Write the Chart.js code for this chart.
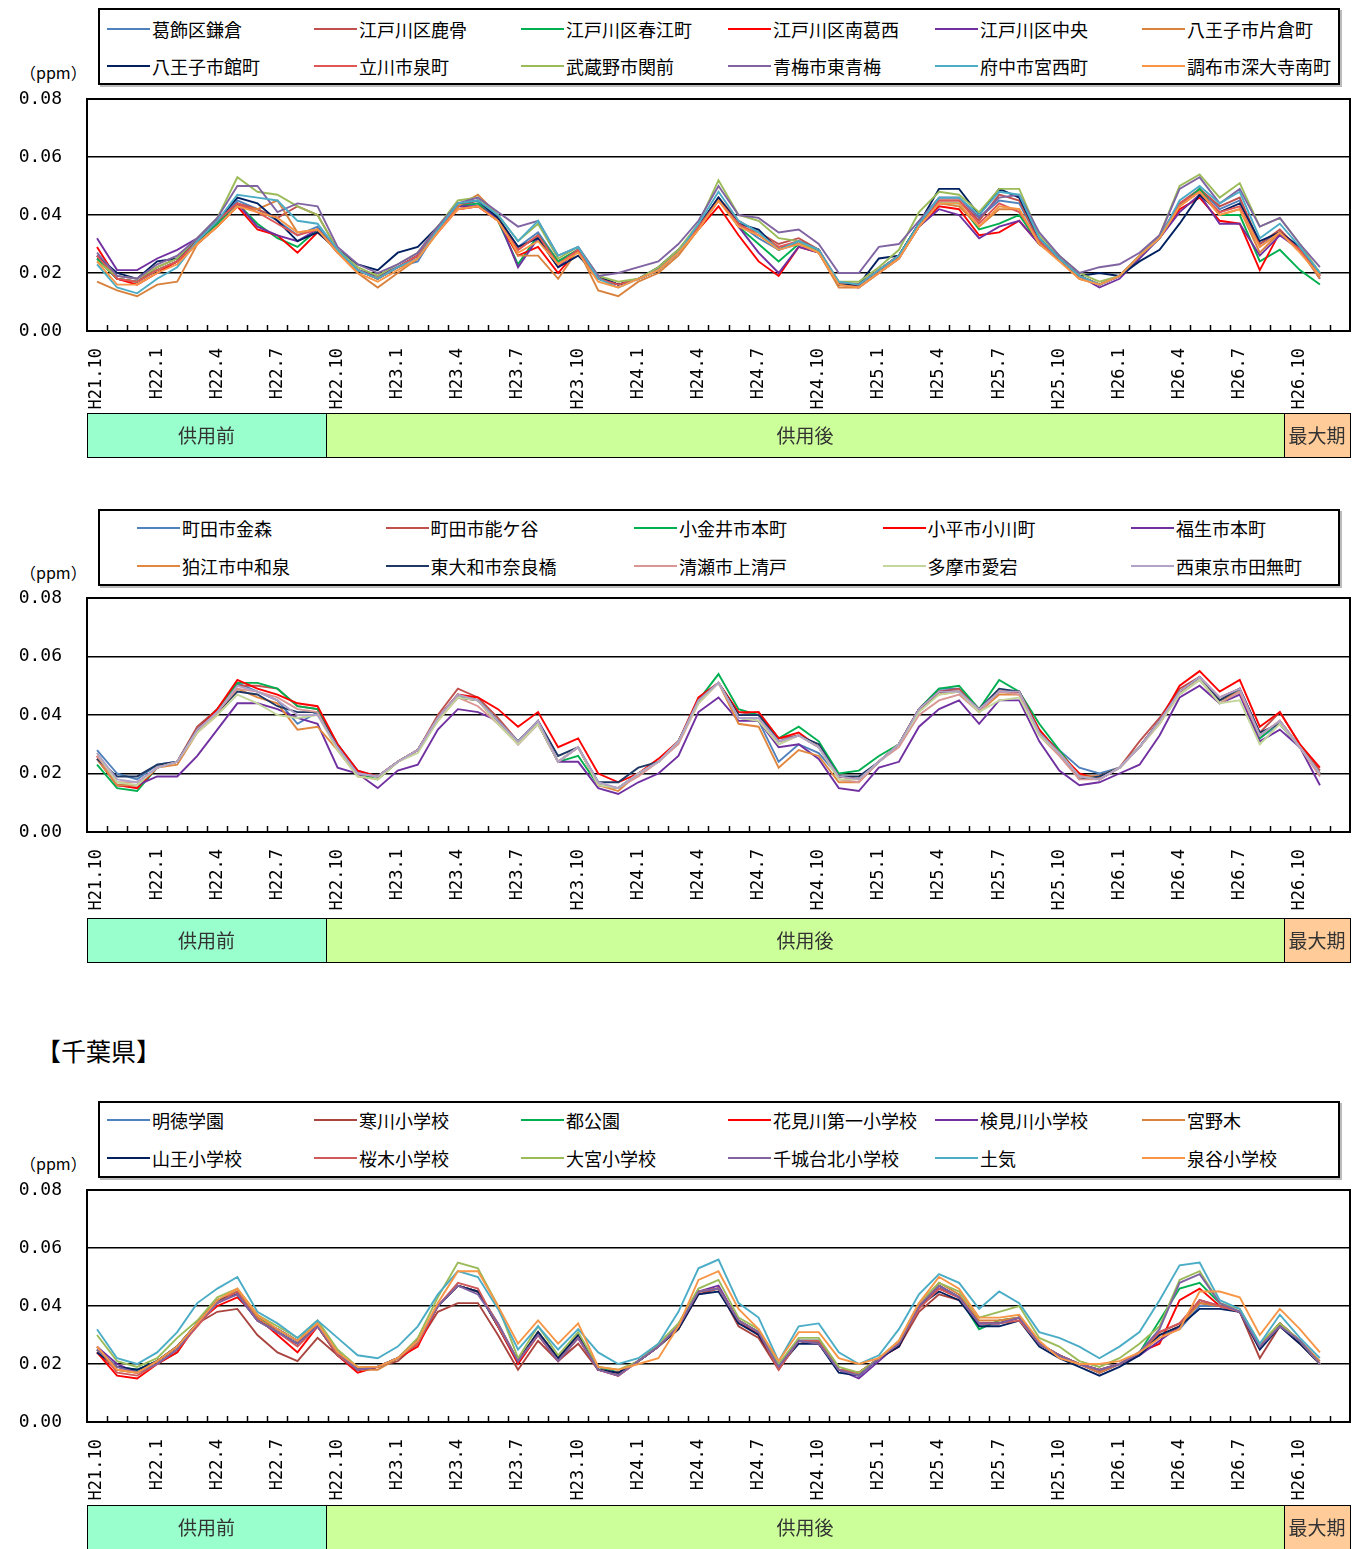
<!DOCTYPE html>
<html><head><meta charset="utf-8">
<script src="https://cdn.jsdelivr.net/npm/chart.js@4.4.0/dist/chart.umd.min.js"></script>
<style>
body{margin:0;background:#fff;}
#root{position:relative;width:1367px;height:1549px;overflow:hidden;background:#fff;font-family:"Noto Sans CJK JP",sans-serif;color:#000;}
.legend{position:absolute;border:2px solid #000;box-sizing:border-box;background:#fff;box-shadow:2px 2px 0 #bbb;}
.li{position:absolute;height:22px;display:flex;align-items:center;font-size:18px;white-space:nowrap;color:#000;line-height:22px;}
.li .sw{display:inline-block;width:43px;height:2px;margin-right:2px;}
.unit{position:absolute;font-size:16px;line-height:20px;white-space:nowrap;}
.pref{position:absolute;font-size:25px;line-height:30px;white-space:nowrap;}
canvas{position:absolute;left:0;}
</style></head><body><div id="root"></div>
<script>
// ---------- categories / tick labels ----------
const monthLabels = ['H21.10','H21.11','H21.12',
 'H22.1','H22.2','H22.3','H22.4','H22.5','H22.6','H22.7','H22.8','H22.9','H22.10','H22.11','H22.12',
 'H23.1','H23.2','H23.3','H23.4','H23.5','H23.6','H23.7','H23.8','H23.9','H23.10','H23.11','H23.12',
 'H24.1','H24.2','H24.3','H24.4','H24.5','H24.6','H24.7','H24.8','H24.9','H24.10','H24.11','H24.12',
 'H25.1','H25.2','H25.3','H25.4','H25.5','H25.6','H25.7','H25.8','H25.9','H25.10','H25.11','H25.12',
 'H26.1','H26.2','H26.3','H26.4','H26.5','H26.6','H26.7','H26.8','H26.9','H26.10','H26.11','H26.12'];
const yTickLabels = ['0.00','0.02','0.04','0.06','0.08'];
const phaseNames = ['供用前','供用後','最大期'];
// phase band edges, in category widths from the left of the axis
const phaseEdges = [0, 11.92, 59.7, 63];
const phaseColors = ['#99FFCC','#CCFF99','#FFCC99'];

// ---------- panel 1 (Tokyo A) ----------
const p1Names = ['葛飾区鎌倉','江戸川区鹿骨','江戸川区春江町','江戸川区南葛西','江戸川区中央','八王子市片倉町',
 '八王子市館町','立川市泉町','武蔵野市関前','青梅市東青梅','府中市宮西町','調布市深大寺南町'];
const p1Colors = ['#4F81BD','#C0504D','#00B050','#FF0000','#7030A0','#D9823E',
 '#002060','#E05555','#9BBB59','#8064A2','#4BACC6','#F79646'];
const kamakura = [.026,.018,.017,.021,.024,.031,.037,.045,.042,.038,.033,.036,.028,.021,.019,.022,.024,.035,.043,.044,.039,.029,.034,.024,.028,.018,.016,.018,.021,.027,.036,.046,.037,.032,.028,.030,.028,.016,.016,.021,.026,.037,.046,.046,.039,.045,.044,.031,.025,.019,.016,.019,.026,.032,.043,.049,.042,.045,.030,.034,.028,.019];
const shishibone = [.025,.018,.017,.022,.025,.031,.038,.044,.042,.039,.043,.040,.028,.021,.018,.022,.026,.035,.043,.045,.039,.028,.033,.024,.028,.018,.016,.018,.021,.027,.036,.046,.038,.034,.030,.032,.028,.016,.016,.021,.026,.037,.045,.045,.038,.047,.045,.031,.025,.019,.016,.019,.026,.032,.044,.049,.043,.046,.030,.035,.028,.019];
const harue = [.025,.018,.017,.021,.024,.031,.037,.044,.037,.032,.029,.035,.028,.021,.018,.022,.026,.035,.043,.044,.038,.023,.033,.024,.028,.018,.016,.018,.021,.027,.036,.046,.036,.030,.024,.030,.028,.016,.016,.021,.026,.037,.044,.044,.035,.037,.040,.030,.025,.019,.016,.019,.026,.032,.043,.049,.040,.040,.024,.028,.021,.016];
const minamikasai = [.029,.018,.016,.020,.024,.030,.036,.043,.035,.033,.027,.034,.028,.021,.018,.022,.026,.034,.042,.043,.038,.026,.029,.020,.028,.018,.016,.018,.021,.027,.035,.043,.033,.024,.019,.029,.027,.016,.016,.021,.026,.036,.043,.042,.033,.034,.038,.030,.025,.019,.016,.019,.026,.032,.042,.046,.038,.037,.021,.034,.028,.019];
const edogawaChuo = [.032,.021,.021,.025,.028,.032,.038,.044,.036,.033,.031,.035,.027,.021,.019,.022,.026,.035,.043,.043,.039,.022,.032,.022,.028,.018,.016,.018,.021,.027,.036,.046,.036,.027,.020,.029,.027,.016,.015,.020,.025,.036,.042,.040,.032,.036,.038,.030,.025,.019,.015,.018,.025,.032,.041,.047,.037,.037,.026,.033,.028,.018];
const katakura = [.017,.014,.012,.016,.017,.030,.036,.043,.042,.045,.034,.035,.027,.020,.015,.020,.025,.034,.043,.047,.040,.026,.026,.018,.028,.014,.012,.017,.020,.026,.035,.045,.036,.034,.029,.030,.027,.015,.015,.020,.025,.036,.044,.043,.036,.042,.042,.030,.025,.018,.016,.019,.026,.032,.043,.048,.040,.042,.027,.034,.028,.018];
const tatemachi = [.026,.020,.018,.024,.025,.031,.038,.046,.044,.038,.031,.034,.028,.023,.021,.027,.029,.036,.044,.045,.039,.029,.032,.022,.026,.019,.016,.018,.022,.028,.036,.046,.037,.035,.028,.031,.028,.016,.016,.025,.026,.037,.049,.049,.040,.049,.046,.032,.025,.019,.020,.019,.024,.028,.037,.047,.041,.044,.031,.034,.029,.020];
const izumicho = [.026,.018,.017,.021,.024,.031,.038,.044,.041,.037,.033,.035,.028,.021,.018,.022,.026,.035,.042,.043,.038,.028,.033,.023,.028,.018,.016,.018,.021,.027,.036,.045,.037,.033,.029,.031,.028,.017,.016,.021,.026,.036,.045,.045,.037,.044,.041,.031,.025,.019,.016,.019,.026,.033,.044,.048,.041,.043,.029,.034,.028,.019];
const sekimae = [.024,.019,.018,.022,.025,.032,.039,.053,.048,.047,.043,.040,.028,.022,.019,.023,.027,.036,.045,.046,.040,.031,.037,.025,.029,.019,.017,.018,.022,.028,.037,.052,.040,.038,.032,.031,.027,.017,.017,.022,.028,.041,.048,.047,.041,.049,.049,.033,.026,.020,.017,.019,.026,.033,.050,.054,.046,.051,.036,.039,.030,.020];
const higashiome = [.027,.019,.018,.023,.026,.032,.039,.050,.050,.041,.044,.043,.029,.023,.020,.023,.027,.036,.044,.046,.041,.036,.038,.026,.029,.019,.020,.022,.024,.030,.038,.050,.040,.039,.034,.035,.030,.020,.020,.029,.030,.038,.046,.046,.039,.046,.047,.034,.026,.020,.022,.023,.027,.033,.049,.053,.044,.049,.036,.039,.030,.022];
const miyanishi = [.023,.015,.013,.018,.022,.031,.038,.047,.046,.045,.038,.037,.028,.021,.018,.022,.025,.035,.044,.045,.040,.031,.038,.026,.029,.018,.015,.018,.021,.027,.037,.048,.038,.034,.028,.031,.028,.017,.016,.021,.026,.037,.046,.046,.040,.048,.047,.032,.025,.019,.016,.019,.026,.032,.045,.050,.044,.048,.032,.037,.029,.020];
const jindaiji = [.024,.016,.016,.020,.023,.030,.036,.043,.041,.039,.034,.035,.027,.020,.017,.021,.025,.034,.042,.043,.038,.027,.031,.023,.027,.017,.015,.018,.021,.027,.035,.045,.036,.033,.028,.030,.027,.016,.015,.020,.025,.036,.044,.044,.036,.043,.042,.030,.024,.018,.016,.019,.026,.032,.043,.048,.040,.042,.029,.034,.027,.019];

// ---------- panel 2 (Tokyo B) ----------
const p2Names = ['町田市金森','町田市能ケ谷','小金井市本町','小平市小川町','福生市本町',
 '狛江市中和泉','東大和市奈良橋','清瀬市上清戸','多摩市愛宕','西東京市田無町'];
const p2Colors = ['#4F81BD','#C0504D','#00B050','#FF0000','#7030A0',
 '#E2883E','#1F3864','#D99694','#C3D69B','#B3A2C7'];
const kanamori = [.028,.020,.018,.023,.024,.035,.041,.051,.048,.045,.037,.041,.030,.021,.019,.024,.028,.039,.047,.045,.038,.031,.037,.024,.029,.016,.015,.020,.024,.031,.045,.051,.039,.038,.024,.030,.027,.019,.018,.024,.030,.042,.049,.049,.042,.048,.048,.034,.028,.022,.020,.022,.029,.038,.048,.052,.045,.048,.032,.037,.029,.020];
const nogaya = [.026,.016,.016,.022,.024,.036,.042,.050,.050,.049,.043,.042,.029,.020,.019,.024,.028,.040,.049,.046,.039,.031,.038,.024,.029,.016,.015,.020,.024,.031,.045,.051,.040,.041,.032,.033,.029,.019,.018,.024,.030,.042,.048,.049,.042,.048,.048,.035,.027,.019,.019,.022,.031,.039,.049,.053,.046,.049,.034,.041,.030,.021];
const koganei = [.023,.015,.014,.022,.024,.035,.042,.051,.051,.049,.043,.042,.030,.020,.018,.024,.028,.039,.047,.045,.038,.031,.037,.024,.026,.016,.015,.020,.024,.031,.045,.054,.042,.040,.032,.036,.031,.020,.021,.026,.030,.042,.049,.050,.042,.052,.048,.037,.028,.019,.018,.022,.029,.038,.048,.052,.045,.048,.032,.038,.029,.020];
const ogawa = [.026,.016,.015,.022,.024,.035,.042,.052,.049,.047,.044,.043,.030,.021,.019,.024,.028,.039,.047,.046,.042,.036,.041,.029,.032,.020,.017,.020,.025,.031,.046,.051,.041,.041,.032,.034,.029,.019,.018,.024,.030,.042,.048,.048,.042,.048,.048,.035,.027,.020,.018,.022,.029,.038,.050,.055,.048,.052,.036,.041,.030,.022];
const fussa = [.025,.016,.016,.019,.019,.026,.035,.044,.044,.042,.039,.037,.022,.020,.015,.021,.023,.035,.042,.041,.038,.030,.037,.024,.024,.015,.013,.017,.020,.026,.041,.046,.038,.038,.029,.030,.025,.015,.014,.022,.024,.036,.042,.045,.037,.045,.045,.031,.021,.016,.017,.020,.023,.033,.046,.050,.044,.047,.031,.035,.029,.016];
const komae = [.025,.016,.016,.022,.023,.034,.040,.049,.046,.044,.035,.036,.028,.019,.018,.024,.028,.038,.046,.045,.037,.030,.037,.024,.029,.016,.014,.020,.024,.031,.045,.051,.037,.036,.022,.028,.026,.017,.017,.024,.030,.042,.047,.048,.041,.047,.047,.034,.027,.019,.019,.022,.029,.037,.048,.052,.045,.048,.033,.038,.029,.020];
const narahashi = [.025,.019,.019,.023,.024,.035,.041,.048,.047,.043,.041,.041,.029,.020,.019,.024,.028,.039,.046,.045,.038,.031,.038,.026,.029,.017,.017,.022,.024,.031,.045,.051,.040,.040,.031,.033,.030,.019,.019,.024,.030,.042,.048,.048,.042,.049,.048,.034,.027,.018,.019,.022,.029,.038,.048,.053,.045,.049,.034,.037,.029,.020];
const kiyose = [.026,.017,.017,.022,.024,.034,.041,.049,.048,.046,.042,.041,.028,.020,.019,.024,.028,.039,.046,.043,.037,.030,.037,.024,.029,.016,.015,.019,.024,.030,.044,.051,.039,.039,.030,.033,.029,.018,.017,.024,.029,.040,.045,.047,.041,.048,.047,.033,.026,.018,.018,.022,.029,.037,.047,.052,.044,.048,.033,.038,.029,.019];
const atago = [.027,.017,.016,.022,.024,.034,.040,.047,.044,.040,.039,.040,.028,.019,.018,.024,.027,.038,.046,.045,.037,.030,.037,.024,.029,.016,.015,.020,.024,.031,.044,.051,.039,.038,.030,.033,.029,.018,.018,.024,.030,.041,.047,.048,.041,.045,.046,.033,.027,.019,.018,.022,.029,.037,.047,.052,.044,.045,.030,.037,.029,.020];
const tanashi = [.027,.018,.017,.022,.024,.035,.041,.050,.048,.045,.040,.040,.029,.020,.019,.024,.028,.039,.047,.045,.038,.031,.038,.024,.029,.017,.015,.020,.024,.031,.045,.051,.039,.039,.031,.033,.029,.019,.018,.024,.030,.042,.048,.048,.042,.048,.048,.034,.027,.019,.018,.022,.029,.038,.048,.053,.046,.049,.033,.038,.029,.020];

// ---------- panel 3 (Chiba) ----------
const p3Names = ['明徳学園','寒川小学校','都公園','花見川第一小学校','検見川小学校','宮野木',
 '山王小学校','桜木小学校','大宮小学校','千城台北小学校','土気','泉谷小学校'];
const p3Colors = ['#4F81BD','#A9443F','#00B050','#FF0000','#7030A0','#D9823E',
 '#002060','#D05A5A','#9BBB59','#8064A2','#4BACC6','#F79646'];
const meitoku = [.025,.019,.018,.021,.026,.034,.042,.044,.036,.032,.028,.034,.024,.018,.019,.022,.028,.040,.047,.045,.033,.021,.031,.022,.030,.019,.017,.021,.026,.033,.045,.046,.035,.031,.019,.028,.028,.018,.016,.022,.027,.040,.047,.043,.034,.034,.036,.027,.023,.020,.018,.020,.024,.030,.032,.040,.040,.038,.026,.034,.028,.020];
const samukawa = [.024,.018,.017,.020,.024,.034,.038,.039,.030,.024,.021,.029,.023,.018,.019,.021,.027,.038,.041,.041,.030,.018,.028,.021,.027,.018,.017,.021,.026,.032,.044,.046,.033,.029,.018,.028,.027,.018,.017,.022,.026,.038,.044,.042,.034,.034,.036,.027,.023,.020,.017,.020,.024,.031,.034,.041,.040,.038,.022,.033,.027,.020];
const miyakoKoen = [.025,.019,.018,.021,.026,.034,.042,.045,.036,.032,.028,.034,.024,.018,.019,.022,.028,.040,.047,.045,.033,.021,.031,.022,.030,.019,.017,.021,.026,.033,.045,.046,.035,.031,.019,.028,.028,.018,.017,.022,.027,.040,.047,.043,.032,.035,.036,.027,.023,.020,.018,.020,.024,.035,.046,.048,.041,.038,.026,.034,.028,.020];
const hanamigawa = [.024,.016,.015,.020,.024,.034,.040,.043,.036,.030,.024,.033,.023,.017,.019,.022,.026,.040,.047,.045,.033,.020,.030,.021,.029,.018,.016,.021,.026,.033,.045,.046,.035,.030,.019,.028,.027,.018,.017,.022,.026,.040,.046,.043,.034,.034,.036,.027,.023,.020,.018,.020,.024,.027,.042,.046,.040,.038,.026,.034,.028,.020];
const kemigawa = [.026,.020,.017,.021,.026,.034,.042,.044,.035,.032,.028,.033,.024,.018,.019,.022,.028,.040,.047,.045,.034,.021,.031,.022,.030,.018,.017,.021,.026,.033,.045,.047,.035,.031,.019,.028,.027,.018,.015,.021,.027,.040,.047,.043,.034,.034,.036,.027,.023,.020,.017,.020,.023,.028,.033,.042,.040,.038,.026,.033,.028,.020];
const miyanogi = [.025,.018,.017,.021,.026,.034,.042,.045,.036,.031,.027,.034,.024,.018,.018,.022,.028,.040,.047,.045,.034,.021,.031,.022,.030,.018,.017,.021,.026,.032,.045,.046,.035,.031,.019,.028,.027,.018,.017,.022,.027,.040,.048,.044,.035,.035,.036,.027,.023,.020,.017,.020,.024,.030,.033,.041,.040,.038,.026,.034,.028,.021];
const sanno = [.024,.019,.018,.021,.026,.034,.042,.044,.035,.031,.027,.033,.023,.018,.019,.022,.028,.040,.047,.045,.033,.021,.031,.022,.030,.018,.017,.021,.026,.032,.044,.045,.034,.030,.019,.027,.027,.017,.016,.022,.026,.040,.045,.042,.033,.033,.035,.026,.022,.019,.016,.019,.023,.030,.033,.039,.039,.038,.025,.033,.027,.020];
const sakuragi = [.026,.017,.016,.020,.025,.033,.041,.045,.035,.031,.026,.033,.023,.018,.019,.022,.027,.040,.048,.046,.033,.021,.030,.021,.029,.018,.016,.021,.026,.033,.045,.046,.035,.031,.018,.028,.028,.018,.017,.022,.027,.039,.046,.043,.034,.034,.035,.027,.023,.020,.018,.020,.024,.031,.034,.042,.040,.038,.026,.034,.028,.020];
const omiya = [.030,.021,.019,.022,.029,.035,.043,.046,.037,.033,.029,.035,.025,.019,.019,.022,.029,.043,.055,.053,.040,.022,.033,.023,.031,.019,.018,.021,.027,.034,.046,.049,.036,.032,.020,.029,.029,.019,.017,.022,.028,.041,.048,.045,.036,.038,.040,.029,.026,.021,.019,.022,.027,.033,.049,.052,.041,.039,.027,.034,.028,.020];
const chishirodai = [.025,.019,.017,.020,.025,.034,.041,.044,.035,.031,.027,.033,.024,.018,.019,.022,.028,.040,.047,.044,.034,.021,.030,.021,.029,.018,.016,.021,.026,.033,.045,.046,.035,.031,.019,.028,.027,.018,.016,.022,.027,.040,.047,.043,.034,.034,.036,.027,.023,.020,.018,.020,.024,.032,.048,.051,.041,.038,.026,.033,.028,.020];
const toke = [.032,.022,.020,.024,.031,.041,.046,.050,.038,.034,.029,.035,.029,.023,.022,.026,.033,.044,.052,.050,.039,.025,.033,.025,.032,.024,.020,.022,.027,.038,.053,.056,.041,.036,.021,.033,.034,.024,.020,.023,.032,.044,.051,.048,.039,.045,.041,.031,.029,.026,.022,.026,.031,.042,.054,.055,.042,.039,.027,.037,.029,.022];
const izumiya = [.026,.018,.017,.021,.026,.034,.042,.046,.037,.032,.028,.034,.024,.019,.019,.022,.028,.041,.052,.052,.040,.027,.035,.027,.034,.019,.018,.020,.022,.033,.049,.052,.039,.032,.021,.031,.031,.022,.020,.022,.028,.041,.050,.046,.036,.036,.037,.028,.022,.020,.020,.021,.024,.029,.032,.045,.045,.043,.030,.039,.032,.024];

const p1Series = [kamakura,shishibone,harue,minamikasai,edogawaChuo,katakura,tatemachi,izumicho,sekimae,higashiome,miyanishi,jindaiji];
const p2Series = [kanamori,nogaya,koganei,ogawa,fussa,komae,narahashi,kiyose,atago,tanashi];
const p3Series = [meitoku,samukawa,miyakoKoen,hanamigawa,kemigawa,miyanogi,sanno,sakuragi,omiya,chishirodai,toke,izumiya];

// ---------- drawing ----------
const root = document.getElementById('root');
const MONO = '"DejaVu Sans Mono", monospace';
const JP = '"Noto Sans CJK JP", sans-serif';

const framePlugin = {
  id: 'frame',
  afterDraw(chart, args, opts) {
    const {ctx, chartArea: a, scales: {x}} = chart;
    ctx.save();
    ctx.strokeStyle = '#000';
    ctx.lineWidth = 2;
    ctx.strokeRect(a.left, a.top, a.right - a.left, a.bottom - a.top);
    ctx.lineWidth = 1.5;
    const n = chart.data.labels.length;
    const cw = x.getPixelForValue(1) - x.getPixelForValue(0);
    const half = cw / 2;
    for (let k = 1; k < n; k++) {
      const px = Math.round(x.getPixelForValue(k) - half) + 0.5;
      ctx.beginPath(); ctx.moveTo(px, a.bottom); ctx.lineTo(px, a.bottom - 6); ctx.stroke();
    }
    const top = a.bottom + opts.phaseOff, h = opts.phaseH;
    const x00 = x.getPixelForValue(0) - half;
    ctx.lineWidth = 1;
    ctx.font = '19px ' + JP;
    ctx.textAlign = 'center'; ctx.textBaseline = 'middle';
    for (let i = 0; i < phaseNames.length; i++) {
      const x0 = Math.round(x00 + phaseEdges[i] * cw);
      const x1 = Math.round(x00 + phaseEdges[i + 1] * cw);
      ctx.fillStyle = phaseColors[i];
      ctx.fillRect(x0, top, x1 - x0, h);
      ctx.strokeStyle = '#000';
      ctx.strokeRect(x0 + 0.5, top + 0.5, x1 - x0, h);
      ctx.fillStyle = '#333';
      ctx.fillText(phaseNames[i], (x0 + x1) / 2, top + h / 2 + 1);
    }
    ctx.restore();
  }
};

function makePanel(c) {
  // legend
  const box = document.createElement('div');
  box.className = 'legend';
  box.style.left = '98px'; box.style.top = c.legendTop + 'px';
  box.style.width = '1242px'; box.style.height = '77px';
  root.appendChild(box);
  c.names.forEach((nm, k) => {
    const col = k % c.cols, row = Math.floor(k / c.cols);
    const it = document.createElement('div');
    it.className = 'li';
    it.style.left = (c.col0 + col * c.colStep - 100) + 'px';
    it.style.top = (c.rowY[row] - 13) + 'px';
    const sw = document.createElement('span'); sw.className = 'sw'; sw.style.background = c.colors[k];
    const tx = document.createElement('span'); tx.textContent = nm;
    it.appendChild(sw); it.appendChild(tx);
    box.appendChild(it);
  });
  // unit
  const u = document.createElement('div');
  u.className = 'unit'; u.textContent = '（ppm）';
  u.style.left = '20px'; u.style.top = (c.unitY - 10) + 'px';
  root.appendChild(u);
  // canvas
  const cv = document.createElement('canvas');
  cv.width = 1367; cv.height = c.canvasH;
  cv.style.top = c.canvasTop + 'px';
  cv.style.width = '1367px'; cv.style.height = c.canvasH + 'px';
  root.appendChild(cv);
  const padTop = 9;
  const xH = c.canvasH - padTop - c.plotH;
  new Chart(cv, {
    type: 'line',
    data: {
      labels: monthLabels,
      datasets: c.series.map((d, i) => ({
        label: c.names[i], data: d, borderColor: c.colors[i], backgroundColor: c.colors[i],
        borderWidth: 1.9, pointRadius: 0, tension: 0, fill: false, order: c.series.length - i
      }))
    },
    options: {
      responsive: false, animation: false, devicePixelRatio: 1,
      layout: {padding: {top: padTop, right: 17, left: 0, bottom: 0}},
      plugins: {legend: {display: false}, tooltip: {enabled: false}, frame: {phaseOff: c.phaseOff, phaseH: 44}},
      scales: {
        x: {
          type: 'category', offset: true,
          grid: {display: false}, border: {display: false},
          ticks: {
            autoSkip: false, maxRotation: 90, minRotation: 90, padding: 9, color: '#000',
            font: {family: MONO, size: 17},
            callback: function (v, i) { return i % 3 === 0 ? this.getLabelForValue(v) : ''; }
          },
          afterFit: (s) => { s.height = xH; s.paddingLeft = 0; s.paddingRight = 0; }
        },
        y: {
          min: 0, max: 0.08,
          grid: {color: '#000', lineWidth: 1.5, drawTicks: false},
          border: {display: false},
          ticks: {
            stepSize: 0.02, padding: 25, color: '#000',
            font: {family: MONO, size: 18},
            callback: (v) => yTickLabels[Math.round(v / 0.02)]
          },
          afterFit: (s) => { s.width = 87; s.paddingTop = 0; s.paddingBottom = 0; }
        }
      }
    },
    plugins: [framePlugin]
  });
}

makePanel({legendTop: 8, rowY: [21, 58], cols: 6, col0: 107, colStep: 207,
  names: p1Names, colors: p1Colors, series: p1Series,
  unitY: 72, canvasTop: 90, canvasH: 372, plotH: 232, phaseOff: 82});
makePanel({legendTop: 509, rowY: [19, 57], cols: 5, col0: 137, colStep: 248.5,
  names: p2Names, colors: p2Colors, series: p2Series,
  unitY: 572, canvasTop: 589, canvasH: 376, plotH: 234, phaseOff: 86});
const pref = document.createElement('div');
pref.className = 'pref'; pref.textContent = '【千葉県】';
pref.style.left = '36px'; pref.style.top = '1035px';
root.appendChild(pref);
makePanel({legendTop: 1101, rowY: [19, 57], cols: 6, col0: 107, colStep: 207,
  names: p3Names, colors: p3Colors, series: p3Series,
  unitY: 1163, canvasTop: 1181, canvasH: 368, plotH: 232, phaseOff: 83});
</script>
</body></html>
